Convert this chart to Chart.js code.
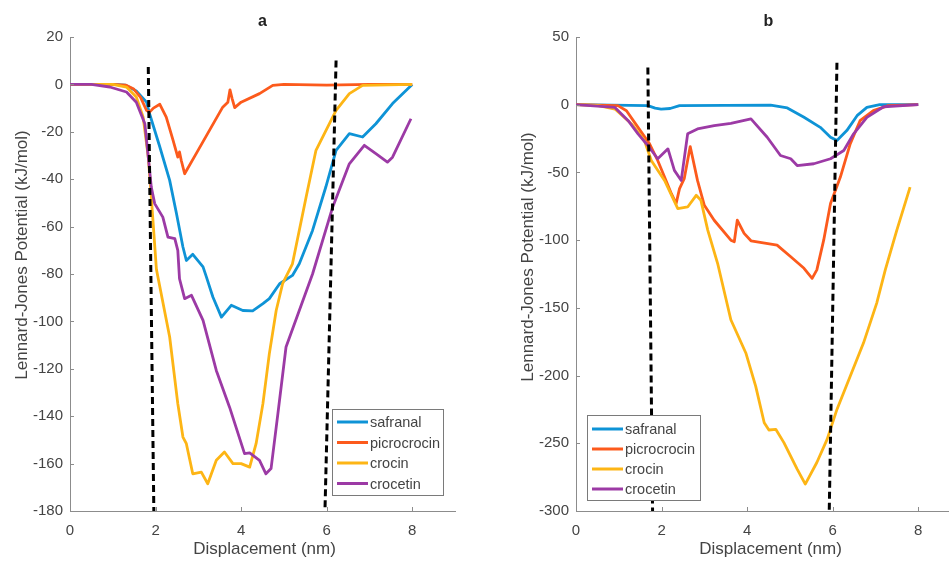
<!DOCTYPE html>
<html>
<head>
<meta charset="utf-8">
<script src="https://cdn.jsdelivr.net/npm/chart.js@4.4.0/dist/chart.umd.min.js"></script>
<style>
html, body { margin: 0; padding: 0; overflow: hidden; background: #fff; }
body { width: 949px; height: 566px; position: relative; }
canvas { position: absolute; top: 0; }
#chartA { left: 0; }
#chartB { left: 474px; }
</style>
</head>
<body>
<canvas id="chartA" width="474" height="566"></canvas>
<canvas id="chartB" width="526" height="566"></canvas>
<script>
// ---- data: panel a ----
const seriesNames = ["safranal", "picrocrocin", "crocin", "crocetin"];
const seriesColors = ["#0e93d6", "#fc5a1c", "#fdb515", "#9c3aa5"];

const aSafranalX = [0, 0.5, 1.0, 1.3, 1.55, 1.79, 1.86, 2.1, 2.33, 2.49, 2.64, 2.72, 2.87, 3.11, 3.19, 3.34, 3.54, 3.77, 4.04, 4.27, 4.51, 4.66, 4.9, 5.2, 5.36, 5.67, 5.98, 6.22, 6.53, 6.84, 7.15, 7.54, 8.0];
const aSafranalY = [0, 0, 0, -0.3, -2.8, -7.5, -12.4, -26.4, -40.5, -54.6, -68.6, -74.3, -71.7, -77, -81.3, -89.7, -98.2, -93.2, -95.4, -95.6, -92.5, -90.4, -84.1, -80.6, -75.7, -61.6, -43.3, -27.8, -20.8, -22.2, -16.6, -8.1, 0];

const aPicroX = [0, 1.0, 1.3, 1.48, 1.65, 1.79, 1.86, 1.95, 2.1, 2.25, 2.41, 2.52, 2.56, 2.6, 2.68, 2.95, 3.26, 3.57, 3.69, 3.74, 3.79, 3.85, 4.0, 4.43, 4.74, 5.0, 6.0, 7.0, 8.0];
const aPicroY = [0, 0, -0.3, -1.8, -5.5, -11, -11.7, -10, -8.4, -13.8, -23.6, -30.7, -28.5, -32, -37.7, -29.2, -19.4, -9.6, -7.5, -2.3, -6, -9.8, -7.5, -3.9, -0.4, 0, -0.3, 0, 0];

const aCrocinX = [0, 1.0, 1.32, 1.55, 1.71, 1.83, 1.9, 2.02, 2.33, 2.52, 2.64, 2.72, 2.87, 3.07, 3.22, 3.42, 3.61, 3.81, 4.0, 4.2, 4.35, 4.51, 4.66, 4.82, 4.97, 5.2, 5.52, 5.75, 6.22, 6.53, 6.84, 8.0];
const aCrocinY = [0, 0, -1.1, -5.3, -13.8, -30.7, -47.5, -78, -106.6, -134.7, -148.8, -151.6, -164.3, -163.6, -168.5, -158.6, -155.1, -160, -160, -161.5, -151.6, -134.7, -113.6, -95.4, -84.1, -75.7, -47.5, -27.8, -11, -3.9, -0.4, 0];

const aCrocetinX = [0, 0.5, 0.93, 1.32, 1.55, 1.75, 1.83, 1.9, 1.98, 2.17, 2.29, 2.45, 2.52, 2.56, 2.68, 2.84, 3.11, 3.42, 3.73, 4.08, 4.2, 4.43, 4.58, 4.7, 4.86, 5.05, 5.36, 5.67, 6.14, 6.53, 6.88, 7.15, 7.42, 7.54, 7.97];
const aCrocetinY = [0, 0, -1.1, -3.2, -7.5, -16.6, -30.7, -43.3, -50.3, -56, -64.4, -65.1, -70, -82, -90.4, -89, -99.6, -120.7, -136.2, -155.8, -155.5, -158.6, -164.3, -162.1, -138.9, -110.8, -95.4, -80, -51.8, -33.5, -25.7, -29.2, -32.8, -30.7, -14.5];

const aDash1X = [1.83, 1.96], aDash1Y = [7.3, -180];
const aDash2X = [6.22, 5.96], aDash2Y = [10.1, -180];

// ---- data: panel b ----
const bSafranalX = [0, 1.68, 1.85, 1.99, 2.2, 2.42, 4.55, 4.94, 5.33, 5.71, 5.95, 6.1, 6.33, 6.57, 6.8, 7.1, 8.0];
const bSafranalY = [0, -0.7, -2.5, -3.2, -2.8, -0.7, -0.3, -2.4, -9.3, -16.7, -24, -26.5, -19.1, -8.1, -2, 0, 0];

const bPicroX = [0, 0.98, 1.18, 1.45, 1.72, 1.91, 2.07, 2.23, 2.34, 2.42, 2.53, 2.67, 2.84, 3.0, 3.23, 3.62, 3.7, 3.77, 3.93, 4.09, 4.7, 5.02, 5.33, 5.52, 5.63, 5.79, 5.95, 6.18, 6.41, 6.64, 6.95, 7.3, 8.0];
const bPicroY = [0, -0.7, -4.4, -16.7, -28.9, -41.2, -53.4, -65.7, -73, -62, -54.6, -30.9, -55.9, -74.3, -85.3, -100, -101.2, -85.3, -95, -100.5, -103.7, -112.3, -120.8, -128.2, -122, -100, -73, -53.4, -28.9, -11.8, -4.4, -0.7, 0];

const bCrocinX = [0, 0.5, 0.91, 1.3, 1.6, 1.76, 2.07, 2.38, 2.61, 2.81, 2.92, 3.08, 3.31, 3.62, 3.97, 4.2, 4.4, 4.51, 4.67, 4.86, 5.17, 5.36, 5.63, 5.87, 6.1, 6.41, 6.72, 7.03, 7.23, 7.5, 7.81];
const bCrocinY = [0, -0.5, -3.2, -14.2, -26.5, -41.2, -55.9, -76.7, -75.5, -66.9, -70.6, -92.6, -117.1, -158.8, -183.3, -207.8, -234.8, -240.2, -239.7, -249.5, -269.1, -280.1, -264.2, -247.1, -225, -200.5, -176, -146.5, -122, -92.6, -60.8];

const bCrocetinX = [0, 0.91, 1.22, 1.45, 1.68, 1.91, 2.15, 2.3, 2.46, 2.61, 2.84, 3.23, 3.62, 4.09, 4.47, 4.78, 5.02, 5.17, 5.56, 5.95, 6.26, 6.49, 6.8, 7.19, 8.0];
const bCrocetinY = [0, -2, -11.8, -21.5, -30.1, -39.9, -32.6, -48.5, -55.9, -21.5, -17.9, -15.4, -13.7, -10.5, -24, -37.5, -39.9, -44.9, -43.6, -39.9, -33.8, -21.5, -9.3, -1.5, 0];

const bDash1X = [1.68, 1.79], bDash1Y = [27.4, -300];
const bDash2X = [6.1, 5.92], bDash2Y = [31, -300];

// ---- ticks ----
const xTicks = [0, 2, 4, 6, 8];
const aYTicks = [20, 0, -20, -40, -60, -80, -100, -120, -140, -160, -180];
const bYTicks = [50, 0, -50, -100, -150, -200, -250, -300];

const FONT = '"Liberation Sans", Arial, sans-serif';
const AXIS_COLOR = '#8c8c8c';
const TEXT_COLOR = '#444';

function pts(xs, ys) {
  return xs.map((x, i) => ({ x: x, y: ys[i] }));
}

function series(i, xs, ys) {
  return {
    label: seriesNames[i],
    data: pts(xs, ys),
    borderColor: seriesColors[i],
    borderWidth: 2.8,
    borderJoinStyle: 'round',
    pointRadius: 0,
    fill: false,
    tension: 0,
    order: 4 - i
  };
}

function dash(xs, ys) {
  return {
    label: '',
    data: pts(xs, ys),
    borderColor: '#000',
    borderWidth: 3,
    borderDash: [7, 4],
    pointRadius: 0,
    fill: false,
    order: 0
  };
}

// extra drawing: inward ticks, titles, boxed legend
const decor = {
  id: 'decor',
  afterDraw(chart, args, o) {
    const ctx = chart.ctx, area = chart.chartArea;
    const xs = chart.scales.x, ys = chart.scales.y;
    ctx.save();

    ctx.strokeStyle = AXIS_COLOR;
    ctx.lineWidth = 1;
    ctx.beginPath();
    o.xTicks.forEach(v => {
      const p = Math.round(xs.getPixelForValue(v)) + 0.5;
      ctx.moveTo(p, area.bottom);
      ctx.lineTo(p, area.bottom - 4);
    });
    o.yTicks.forEach(v => {
      const p = Math.round(ys.getPixelForValue(v)) + 0.5;
      ctx.moveTo(area.left, p);
      ctx.lineTo(area.left + 4, p);
    });
    ctx.stroke();

    // panel title
    ctx.fillStyle = '#222';
    ctx.textAlign = 'center';
    ctx.textBaseline = 'middle';
    ctx.font = 'bold 16px ' + FONT;
    ctx.fillText(o.title, (area.left + area.right) / 2, 22);

    // axis titles
    ctx.fillStyle = TEXT_COLOR;
    ctx.font = '17px ' + FONT;
    ctx.fillText('Displacement (nm)', (area.left + area.right) / 2 + 2, 549);
    ctx.save();
    ctx.translate(o.yTitleX, o.yTitleY);
    ctx.rotate(-Math.PI / 2);
    ctx.fillText('Lennard-Jones Potential (kJ/mol)', 0, 0);
    ctx.restore();

    // legend box
    const L = o.legend;
    ctx.fillStyle = '#fff';
    ctx.fillRect(L.x, L.y, L.w, L.h);
    ctx.strokeStyle = '#7a7a7a';
    ctx.strokeRect(L.x + 0.5, L.y + 0.5, L.w, L.h);
    ctx.font = '14.5px ' + FONT;
    ctx.textAlign = 'left';
    const items = chart.data.datasets.filter(d => d.label);
    items.forEach((d, i) => {
      const y = L.y + L.row0 + i * L.dy;
      ctx.strokeStyle = d.borderColor;
      ctx.lineWidth = 3;
      ctx.beginPath();
      ctx.moveTo(L.x + 5, y);
      ctx.lineTo(L.x + 36, y);
      ctx.stroke();
      ctx.fillStyle = TEXT_COLOR;
      ctx.fillText(d.label, L.x + 38, y + 1);
    });
    ctx.restore();
  }
};

function makeChart(id, datasets, yMin, yMax, yTicks, yAxisWidth, padRight, decorOpts) {
  return new Chart(id, {
    type: 'line',
    data: { datasets: datasets },
    options: {
      responsive: false,
      animation: false,
      devicePixelRatio: 1,
      layout: { padding: { left: 0, top: 37, right: padRight, bottom: 0 } },
      plugins: {
        legend: { display: false },
        title: { display: false },
        tooltip: { enabled: false },
        decor: decorOpts
      },
      scales: {
        x: {
          type: 'linear',
          min: 0,
          max: 9,
          grid: { display: false, drawTicks: false },
          border: { display: true, color: AXIS_COLOR, width: 1 },
          ticks: { color: TEXT_COLOR, font: { family: FONT, size: 15 }, padding: 11, maxRotation: 0 },
          afterBuildTicks: s => { s.ticks = xTicks.map(v => ({ value: v })); },
          afterFit: s => { s.height = 55; }
        },
        y: {
          type: 'linear',
          min: yMin,
          max: yMax,
          grid: { display: false, drawTicks: false },
          border: { display: true, color: AXIS_COLOR, width: 1 },
          ticks: { color: TEXT_COLOR, font: { family: FONT, size: 15 }, padding: 7 },
          afterBuildTicks: s => { s.ticks = yTicks.map(v => ({ value: v })); },
          afterFit: s => { s.width = yAxisWidth; }
        }
      }
    },
    plugins: [decor]
  });
}

makeChart('chartA', [
  series(0, aSafranalX, aSafranalY),
  series(1, aPicroX, aPicroY),
  series(2, aCrocinX, aCrocinY),
  series(3, aCrocetinX, aCrocetinY),
  dash(aDash1X, aDash1Y),
  dash(aDash2X, aDash2Y)
], -180, 20, aYTicks, 70, 19, {
  title: 'a', xTicks: xTicks, yTicks: aYTicks, yTitleX: 22, yTitleY: 255,
  legend: { x: 332, y: 409, w: 111, h: 86, row0: 13, dy: 20.5 }
});

makeChart('chartB', [
  series(0, bSafranalX, bSafranalY),
  series(1, bPicroX, bPicroY),
  series(2, bCrocinX, bCrocinY),
  series(3, bCrocetinX, bCrocetinY),
  dash(bDash1X, bDash1Y),
  dash(bDash2X, bDash2Y)
], -300, 50, bYTicks, 102, 39, {
  title: 'b', xTicks: xTicks, yTicks: bYTicks, yTitleX: 54, yTitleY: 257,
  legend: { x: 113, y: 415, w: 113, h: 85, row0: 14, dy: 20 }
});
</script>
</body>
</html>
